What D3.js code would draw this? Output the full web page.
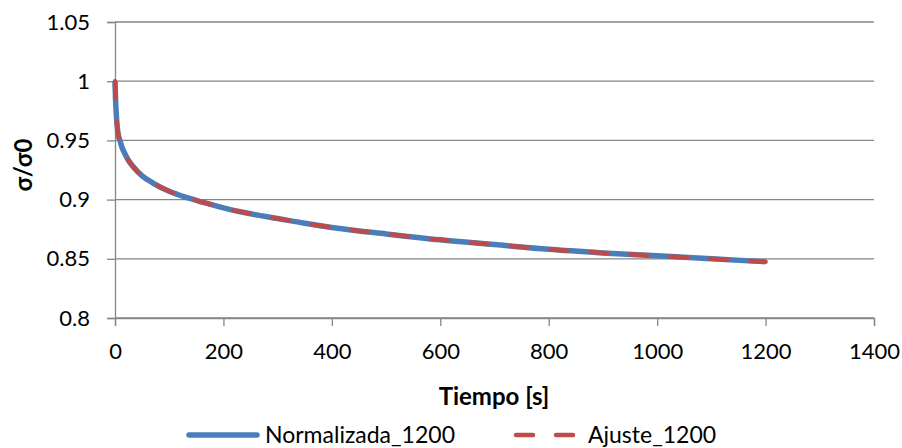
<!DOCTYPE html>
<html><head><meta charset="utf-8">
<script src="https://cdn.jsdelivr.net/npm/d3@7"></script>
<style>body{margin:0;background:#fff}svg{display:block;font-family:Lato,"Open Sans",sans-serif}</style>
</head><body><svg id="c" width="902" height="448"></svg>
<script>
const timeSec = [0,1,2,4,6,9,13,18,25,35,50,70,100,130,160,200,250,300,350,400,500,600,700,800,900,1000,1100,1200];
const normalizada = [1.000,0.985,0.975,0.962,0.955,0.950,0.944,0.939,0.933,0.927,0.920,0.914,0.907,0.902,0.898,0.893,0.888,0.884,0.880,0.8765,0.871,0.866,0.862,0.858,0.855,0.8525,0.850,0.8475];
const ajuste = [1.000,0.984,0.974,0.962,0.955,0.950,0.944,0.939,0.933,0.927,0.920,0.914,0.907,0.902,0.898,0.893,0.888,0.884,0.880,0.8765,0.871,0.866,0.862,0.858,0.855,0.8525,0.850,0.8475];
const xTicks = [0,200,400,600,800,1000,1200,1400];
const yTicks = [0.8,0.85,0.9,0.95,1,1.05];
const seriesNames = ["Normalizada_1200","Ajuste_1200"];

const svg = d3.select("#c");
const x = d3.scaleLinear().domain([0,1400]).range([115,874]);
const y = d3.scaleLinear().domain([0.8,1.05]).range([318,22]);
const grid = "#868686";

svg.append("g").selectAll("line").data(yTicks).join("line")
  .attr("x1",x(0)).attr("x2",x(1400)).attr("y1",d=>y(d)).attr("y2",d=>y(d))
  .attr("stroke",grid).attr("stroke-width",1.3);

const yAxis = svg.append("g").attr("transform",`translate(${x(0)},0)`)
  .call(d3.axisLeft(y).tickValues(yTicks).tickSize(8).tickPadding(17).tickFormat(d=>String(+d.toFixed(2))));
const xAxis = svg.append("g").attr("transform",`translate(0,${y(0.8)})`)
  .call(d3.axisBottom(x).tickValues(xTicks).tickSize(8).tickPadding(17).tickFormat(d3.format("d")));
[yAxis,xAxis].forEach(a=>{
  a.select(".domain").attr("stroke",grid).attr("stroke-width",1.3);
  a.selectAll(".tick line").attr("stroke",grid).attr("stroke-width",1.3);
  a.selectAll("text").attr("fill","#000").style("font-size","22px").style("font-family","Lato,sans-serif");
});

const pts = (vals)=>timeSec.map((t,i)=>[t,vals[i]]);
const line = d3.line().x(d=>x(d[0])).y(d=>y(d[1])).curve(d3.curveMonotoneX);
svg.append("path").attr("d",line(pts(normalizada))).attr("fill","none")
  .attr("stroke","#4A7EBB").attr("stroke-width",5.5).attr("stroke-linejoin","round");
svg.append("path").attr("d",line(pts(ajuste))).attr("fill","none")
  .attr("stroke","#BE4B48").attr("stroke-width",4.5).attr("stroke-linecap","round")
  .attr("stroke-dasharray","17,23");

svg.append("text").attr("x",494).attr("y",405).attr("text-anchor","middle")
  .style("font-size","24px").style("font-weight","bold").text("Tiempo [s]");
svg.append("text").attr("transform","translate(32,165) rotate(-90)").attr("text-anchor","middle")
  .style("font-size","24px").style("font-weight","bold").text("σ/σ0");

const leg = svg.append("g");
leg.append("line").attr("x1",189).attr("x2",257).attr("y1",435).attr("y2",435)
  .attr("stroke","#4A7EBB").attr("stroke-width",5.5).attr("stroke-linecap","round");
leg.append("text").attr("x",265).attr("y",443).style("font-size","23px").text(seriesNames[0]);
leg.append("line").attr("x1",516).attr("x2",580).attr("y1",435).attr("y2",435)
  .attr("stroke","#BE4B48").attr("stroke-width",4.5).attr("stroke-linecap","round").attr("stroke-dasharray","17,23");
leg.append("text").attr("x",588).attr("y",443).style("font-size","23px").text(seriesNames[1]);
</script></body></html>
